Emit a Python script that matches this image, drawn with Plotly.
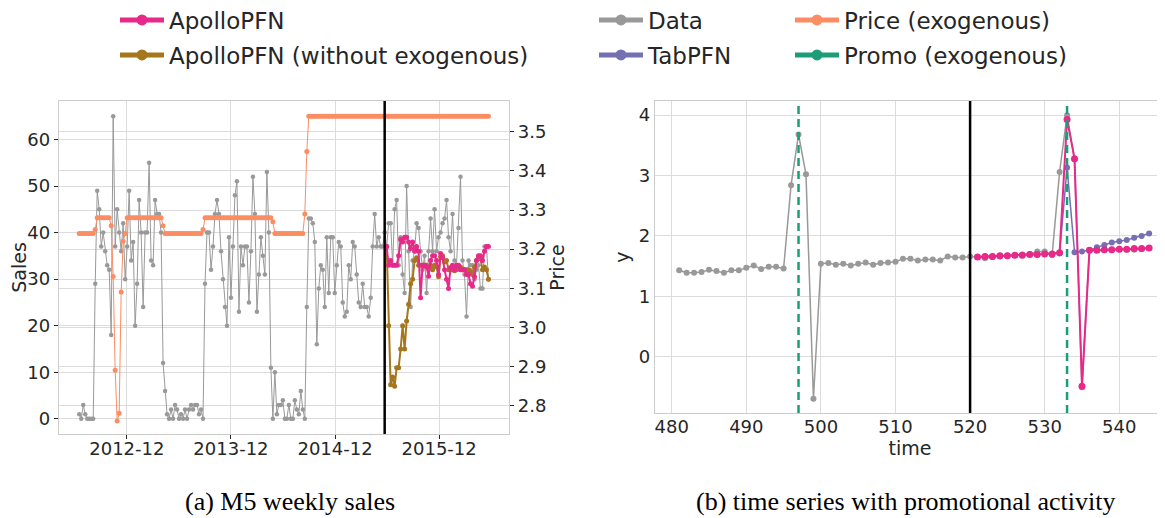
import pandas as pd
import plotly.graph_objects as go

# ---------------- Panel (a): M5 weekly sales ----------------
first_week = "2012-06-17"
n_weeks = 206
n_context = 154

sales = [
    1, 0, 3, 1, 0, 0, 0, 0,
    29, 49, 45, 37, 40, 36, 33, 32,
    18, 65, 37, 45, 40, 36, 42, 30,
    37, 49, 34, 38, 20, 29, 47, 40,
    24, 40, 40, 55, 34, 33, 47, 44,
    44, 40, 12, 6, 1, 0, 2, 0,
    3, 2, 0, 1, 0, 2, 0, 2,
    3, 2, 3, 3, 1, 2, 0, 29,
    40, 40, 32, 37, 44, 47, 44, 36,
    30, 24, 20, 39, 26, 37, 48, 51,
    23, 37, 33, 37, 37, 25, 36, 52,
    44, 23, 31, 39, 35, 31, 53, 40,
    11, 0, 10, 1, 3, 3, 4, 0,
    0, 3, 0, 0, 4, 2, 1, 6,
    2, 0, 24, 43, 43, 42, 38, 16,
    28, 33, 32, 24, 39, 27, 39, 39,
    27, 33, 38, 37, 25, 22, 23, 33,
    30, 38, 37, 31, 25, 24, 29, 24,
    24, 22, 26, 37, 44, 37, 39, 37,
    37, 40,
    # test period
    37, 42, 42, 33, 45, 47, 33, 39, 31, 27,
    50, 36, 24, 34, 36, 42, 41, 36, 32, 35,
    27, 36, 43, 36, 45, 36, 39, 40, 42, 43,
    47, 39, 36, 44, 34, 33, 41, 52, 34, 31,
    22, 34, 33, 33, 30, 32, 33, 28, 28, 37,
    37, 30,
]

price = [
    3.24, 3.24, 3.24, 3.24, 3.24, 3.24, 3.24, 3.24,
    3.25,
    3.28, 3.28, 3.28, 3.28, 3.28, 3.28, 3.28,
    3.26, 3.13, 2.89, 2.76, 2.78, 3.09, 3.22, 3.24,
    3.28, 3.28, 3.28, 3.28, 3.28, 3.28, 3.28, 3.28, 3.28,
    3.28, 3.28, 3.28, 3.28, 3.28, 3.28, 3.28, 3.28, 3.28,
    3.26,
    3.24, 3.24, 3.24, 3.24, 3.24, 3.24, 3.24, 3.24, 3.24, 3.24,
    3.24, 3.24, 3.24, 3.24, 3.24, 3.24, 3.24, 3.24, 3.24,
    3.25,
    3.28, 3.28, 3.28, 3.28, 3.28, 3.28, 3.28, 3.28, 3.28, 3.28,
    3.28, 3.28, 3.28, 3.28, 3.28, 3.28, 3.28, 3.28, 3.28, 3.28,
    3.28, 3.28, 3.28, 3.28, 3.28, 3.28, 3.28, 3.28, 3.28, 3.28,
    3.28, 3.28, 3.28, 3.28,
    3.27,
    3.24, 3.24, 3.24, 3.24, 3.24, 3.24, 3.24, 3.24, 3.24, 3.24,
    3.24, 3.24, 3.24, 3.24, 3.24,
    3.29, 3.45,
    3.54, 3.54, 3.54, 3.54, 3.54, 3.54, 3.54, 3.54, 3.54, 3.54,
    3.54, 3.54, 3.54, 3.54, 3.54, 3.54, 3.54, 3.54, 3.54, 3.54,
    3.54, 3.54, 3.54, 3.54, 3.54, 3.54, 3.54, 3.54, 3.54, 3.54,
    3.54, 3.54, 3.54, 3.54, 3.54, 3.54, 3.54, 3.54, 3.54, 3.54,
    3.54, 3.54, 3.54, 3.54, 3.54, 3.54, 3.54, 3.54, 3.54, 3.54,
    3.54, 3.54, 3.54, 3.54, 3.54, 3.54, 3.54, 3.54, 3.54, 3.54,
    3.54, 3.54, 3.54, 3.54, 3.54, 3.54, 3.54, 3.54, 3.54, 3.54,
    3.54, 3.54, 3.54, 3.54, 3.54, 3.54, 3.54, 3.54, 3.54, 3.54,
    3.54, 3.54, 3.54, 3.54, 3.54, 3.54, 3.54, 3.54, 3.54, 3.54,
    3.54,
]

apollo_a = [
    37, 33, 34, 33, 33, 33, 35, 38.5, 38, 39,
    39, 38, 36.6, 38, 36, 37, 36, 26, 33, 33,
    32.6, 30.6, 34, 35, 35, 34, 31, 35.5, 34.6, 32,
    30, 28, 32.5, 33, 32, 33, 33, 32, 32, 32,
    31, 31, 29, 28.5, 30.5, 34, 35, 35, 34, 36,
    37, 37,
]
apollo_noexo_a = [
    37, 20, 7.3, 9, 7, 11, 11, 15, 20, 15,
    21, 24.6, 29, 30, 34, 34.6, 33, 33, 33, 33,
    33, 32.6, 33, 32, 33, 32.6, 30.5, 34.8, 35, 33.7,
    34, 32, 32, 32, 31.8, 32, 32.5, 32.6, 32, 32,
    32, 32, 31.8, 31, 32.6, 34, 34.8, 34.4, 32, 32.6,
    32, 30,
]
left_tick_dates = ["2012-12-01", "2013-12-01", "2014-12-01", "2015-12-01"]
left_tick_text = ["2012-12", "2013-12", "2014-12", "2015-12"]
sales_ticks = [0, 10, 20, 30, 40, 50, 60]
price_ticks = [2.8, 2.9, 3.0, 3.1, 3.2, 3.3, 3.4, 3.5]

# ---------------- Panel (b): promotional activity ----------------
t_start = 481
y_data = [
    1.43, 1.39, 1.39, 1.40, 1.44, 1.42, 1.39, 1.43, 1.43, 1.47,
    1.51, 1.45, 1.49, 1.49, 1.46, 2.84, 3.68, 3.02, -0.70, 1.54,
    1.55, 1.52, 1.54, 1.51, 1.54, 1.56, 1.52, 1.55, 1.56, 1.57,
    1.62, 1.62, 1.59, 1.61, 1.61, 1.59, 1.66, 1.64, 1.64, 1.66,
    # future (ground truth)
    1.65, 1.63, 1.65, 1.66, 1.67, 1.68, 1.69, 1.70, 1.74, 1.74,
    1.68, 3.06, 4.00, 3.27, -0.51, 1.76, 1.76, 1.77, 1.77, 1.78,
    1.77, 1.77, 1.78, 1.80,
]
n_context_b = 40
apollo_b = [
    1.65, 1.66, 1.66, 1.67, 1.67, 1.68, 1.68, 1.69, 1.69, 1.70,
    1.70, 1.72, 3.93, 3.28, -0.49, 1.76, 1.76, 1.77, 1.77, 1.78,
    1.78, 1.79, 1.79, 1.80,
]
tabpfn_b = [
    1.65, 1.66, 1.66, 1.67, 1.67, 1.68, 1.68, 1.69, 1.69, 1.70,
    1.70, 1.71, 3.13, 1.73, 1.74, 1.76, 1.81, 1.85, 1.89, 1.91,
    1.93, 1.97, 2.00, 2.04,
]
promo_times = [497, 533]
right_x_ticks = [480, 490, 500, 510, 520, 530, 540]
right_y_ticks = [0, 1, 2, 3, 4]

# ---------------- colours ----------------
C_DATA = "#999999"
C_APOLLO = "#e7298a"
C_NOEXO = "#a6761d"
C_TAB = "#7570b3"
C_PRICE = "#fc8d62"
C_PROMO = "#1b9e77"
FONT = "DejaVu Sans"
TXT = "#262626"
GRID = "#dcdcdc"
SPINE = "#cccccc"

dates = pd.date_range(first_week, periods=n_weeks, freq="W-SUN")
fut_dates = dates[n_context:]
split_date = dates[n_context - 1]

t_all = list(range(t_start, t_start + len(y_data)))
t_fut = t_all[n_context_b:]
split_t = t_all[n_context_b - 1]

fig = go.Figure()

# panel (a)
fig.add_trace(go.Scatter(x=dates, y=sales, mode="lines+markers", xaxis="x", yaxis="y",
                         line=dict(color=C_DATA, width=1), marker=dict(size=4.5, color=C_DATA),
                         showlegend=False))
fig.add_trace(go.Scatter(x=fut_dates, y=apollo_noexo_a, mode="lines+markers", xaxis="x", yaxis="y",
                         line=dict(color=C_NOEXO, width=2), marker=dict(size=5, color=C_NOEXO),
                         showlegend=False))
fig.add_trace(go.Scatter(x=fut_dates, y=apollo_a, mode="lines+markers", xaxis="x", yaxis="y",
                         line=dict(color=C_APOLLO, width=2), marker=dict(size=5, color=C_APOLLO),
                         showlegend=False))
fig.add_trace(go.Scatter(x=dates, y=price, mode="lines+markers", xaxis="x", yaxis="y2",
                         line=dict(color=C_PRICE, width=1), marker=dict(size=5, color=C_PRICE),
                         showlegend=False))

# panel (b)
fig.add_trace(go.Scatter(x=t_all, y=y_data, mode="lines+markers", xaxis="x2", yaxis="y3",
                         line=dict(color=C_DATA, width=1.5), marker=dict(size=6, color=C_DATA),
                         showlegend=False))
fig.add_trace(go.Scatter(x=t_fut, y=tabpfn_b, mode="lines+markers", xaxis="x2", yaxis="y3",
                         line=dict(color=C_TAB, width=1.5), marker=dict(size=6, color=C_TAB),
                         showlegend=False))
fig.add_trace(go.Scatter(x=t_fut, y=apollo_b, mode="lines+markers", xaxis="x2", yaxis="y3",
                         line=dict(color=C_APOLLO, width=2), marker=dict(size=7, color=C_APOLLO),
                         showlegend=False))

# legend-only entries
legend_items = [
    ("ApolloPFN", C_APOLLO, "legend"),
    ("ApolloPFN (without exogenous)", C_NOEXO, "legend2"),
    ("Data", C_DATA, "legend3"),
    ("TabPFN", C_TAB, "legend4"),
    ("Price (exogenous)", C_PRICE, "legend5"),
    ("Promo (exogenous)", C_PROMO, "legend6"),
]
for name, col, lg in legend_items:
    fig.add_trace(go.Scatter(x=[None], y=[None], mode="lines+markers", name=name,
                             xaxis="x2", yaxis="y3", legend=lg,
                             line=dict(color=col, width=5), marker=dict(size=11, color=col)))

# vertical lines
shapes = [
    dict(type="line", xref="x", yref="y domain", x0=split_date, x1=split_date, y0=0, y1=1,
         line=dict(color="black", width=2.5)),
    dict(type="line", xref="x2", yref="y3 domain", x0=split_t, x1=split_t, y0=0, y1=1,
         line=dict(color="black", width=2.5)),
]
for pt in promo_times:
    shapes.append(dict(type="line", xref="x2", yref="y3 domain", x0=pt, x1=pt, y0=0, y1=1,
                       line=dict(color=C_PROMO, width=2.5, dash="8px,5px")))

# the page adds an 8px body margin; the figure is sized to fill the remaining window
OFF = 8
W, H = 1165 - OFF, 518 - OFF
def px_x(p):
    return (p - OFF) / W
def px_y(p):
    return 1 - (p - OFF) / H

tick_font = dict(family=FONT, size=18, color=TXT)
title_font = dict(family=FONT, size=19, color=TXT)
axis_common = dict(showgrid=True, gridcolor=GRID, gridwidth=1.3, zeroline=False,
                   showline=True, linecolor=SPINE, linewidth=1.3, tickfont=tick_font,
                   automargin=False)

legend_pos = {
    "legend": (115, 20), "legend2": (115, 55),
    "legend3": (594, 20), "legend4": (594, 55),
    "legend5": (790, 20), "legend6": (790, 55),
}
legends = {}
for key, (lx, ly) in legend_pos.items():
    legends[key] = dict(x=px_x(lx), y=px_y(ly), xref="paper", yref="paper",
                        xanchor="left", yanchor="middle",
                        font=dict(family=FONT, size=23, color=TXT), bgcolor="rgba(0,0,0,0)",
                        borderwidth=0, itemwidth=44, orientation="v")

caption_font = dict(family="Liberation Serif", size=26, color="black")

fig.update_layout(
    width=W, height=H,
    margin=dict(l=0, r=0, t=0, b=0, autoexpand=False),
    paper_bgcolor="white", plot_bgcolor="white",
    template="none",
    showlegend=True,
    shapes=shapes,
    xaxis=dict(axis_common, domain=[px_x(59), px_x(509)], anchor="y", type="date",
               range=["2012-04-07", "2016-08-02"], tickvals=left_tick_dates, ticktext=left_tick_text,
               mirror=True, ticks="outside", ticklen=4, tickcolor=TXT, ticklabelstandoff=-6),
    yaxis=dict(axis_common, domain=[px_y(434), px_y(101)], anchor="x", range=[-3.25, 68.25],
               tickvals=sales_ticks, mirror=True, ticks="outside", ticklen=4, tickcolor=TXT,
               title=dict(text="Sales", font=title_font, standoff=6)),
    yaxis2=dict(axis_common, overlaying="y", side="right", anchor="x", range=[2.727, 3.579],
                tickvals=price_ticks, tickformat=".1f", ticks="outside", ticklen=4, tickcolor=TXT,
                title=dict(text="Price", font=title_font, standoff=4)),
    xaxis2=dict(axis_common, domain=[px_x(655), 1.0], anchor="y3", range=[477.76, 546.13],
                tickvals=right_x_ticks, mirror=True, ticks="", ticklabelstandoff=-3,
                title=dict(text="time", font=title_font, standoff=1)),
    yaxis3=dict(axis_common, domain=[px_y(413), px_y(101)], anchor="x2", range=[-0.935, 4.235],
                tickvals=right_y_ticks, ticks="",
                title=dict(text="y", font=title_font, standoff=4)),
    annotations=[
        dict(text="(a) M5 weekly sales", xref="paper", yref="paper", x=px_x(290), y=0,
             xanchor="center", yanchor="bottom", showarrow=False, font=caption_font),
        dict(text="(b) time series with promotional activity", xref="paper", yref="paper",
             x=px_x(906), y=0, xanchor="center", yanchor="bottom", showarrow=False,
             font=caption_font),
    ],
    **legends,
)

fig.write_html("out.html")
